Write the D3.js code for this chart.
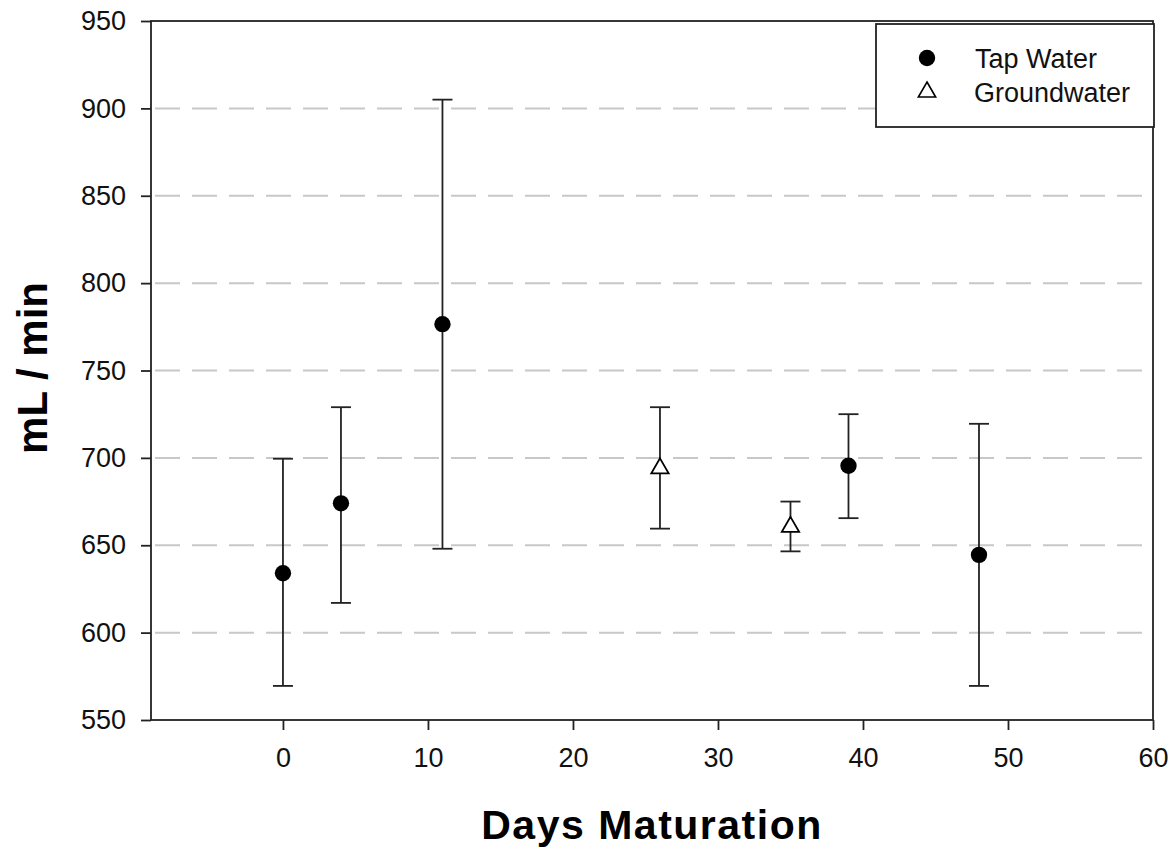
<!DOCTYPE html>
<html><head><meta charset="utf-8">
<script src="https://cdn.jsdelivr.net/npm/d3@7"></script>
<style>body{margin:0;background:#fff;} text{font-family:"Liberation Sans",Arial,sans-serif;}</style>
</head><body>
<svg id="c" width="1173" height="850"></svg>
<script>
const tapDays = [0, 4, 11, 39, 48];
const tapMean = [634, 674, 776.5, 695.5, 644.5];
const tapLow  = [569.5, 617, 648, 665.5, 569.5];
const tapHigh = [699.5, 729, 905, 725, 719.5];
const gwDays = [26, 35];
const gwMean = [694, 660.5];
const gwLow  = [659.5, 646.5];
const gwHigh = [729, 675];
const xTicks = [0, 10, 20, 30, 40, 50, 60];
const yTicks = [550, 600, 650, 700, 750, 800, 850, 900, 950];
const gridTicks = [600, 650, 700, 750, 800, 850, 900];

const svg = d3.select("#c");
const L = 151, R = 1153, T = 21, B = 720;
const x = d3.scaleLinear().domain([-9.1, 60]).range([L, R]);
const y = d3.scaleLinear().domain([550, 950]).range([B, T]);

// grid
svg.append("g").selectAll("line").data(gridTicks).join("line")
  .attr("x1", L + 4).attr("x2", R).attr("y1", d => y(d)).attr("y2", d => y(d))
  .attr("stroke", "#c8c8c8").attr("stroke-width", 2).attr("stroke-dasharray", "25,12");

// frame
svg.append("rect").attr("x", L).attr("y", T).attr("width", R - L).attr("height", B - T)
  .attr("fill", "none").attr("stroke", "#222").attr("stroke-width", 1.8);

// axes
const yAxis = d3.axisLeft(y).tickValues(yTicks).tickSize(10).tickPadding(15);
const gy = svg.append("g").attr("transform", `translate(${L},0)`).call(yAxis);
const xAxis = d3.axisBottom(x).tickValues(xTicks).tickSize(10).tickPadding(18);
const gx = svg.append("g").attr("transform", `translate(0,${B})`).call(xAxis);
[gy, gx].forEach(g => {
  g.select(".domain").remove();
  g.selectAll(".tick line").attr("stroke", "#222").attr("stroke-width", 1.8);
  g.selectAll(".tick text").attr("fill", "#111").style("font-size", "27px")
   .style("font-family", "'Liberation Sans',Arial,sans-serif");
});

// error bars
function errorBars(days, low, high) {
  const g = svg.append("g").attr("stroke", "#222").attr("stroke-width", 1.8);
  g.selectAll("line.v").data(days).join("line").attr("class", "v")
    .attr("x1", d => x(d)).attr("x2", d => x(d))
    .attr("y1", (d, i) => y(low[i])).attr("y2", (d, i) => y(high[i]));
  g.selectAll("line.h").data(days).join("line").attr("class", "h")
    .attr("x1", d => x(d) - 10).attr("x2", d => x(d) + 10)
    .attr("y1", (d, i) => y(high[i])).attr("y2", (d, i) => y(high[i]));
  g.selectAll("line.l").data(days).join("line").attr("class", "l")
    .attr("x1", d => x(d) - 10).attr("x2", d => x(d) + 10)
    .attr("y1", (d, i) => y(low[i])).attr("y2", (d, i) => y(low[i]));
}
errorBars(tapDays, tapLow, tapHigh);
errorBars(gwDays, gwLow, gwHigh);

const circle = d3.symbol().type(d3.symbolCircle).size(210);
const tri = d3.symbol().type(d3.symbolTriangle).size(130);

svg.append("g").selectAll("path").data(tapDays).join("path")
  .attr("d", circle).attr("transform", (d, i) => `translate(${x(d)},${y(tapMean[i])})`)
  .attr("fill", "#000");
svg.append("g").selectAll("path").data(gwDays).join("path")
  .attr("d", tri).attr("transform", (d, i) => `translate(${x(d)},${y(gwMean[i])})`)
  .attr("fill", "#fff").attr("stroke", "#000").attr("stroke-width", 1.8);

// legend
const lg = svg.append("g");
lg.append("rect").attr("x", 876).attr("y", 24).attr("width", 278).attr("height", 103)
  .attr("fill", "#fff").attr("stroke", "#222").attr("stroke-width", 1.8);
lg.append("path").attr("d", circle).attr("transform", "translate(927,58)").attr("fill", "#000");
lg.append("path").attr("d", tri).attr("transform", "translate(927,92)")
  .attr("fill", "#fff").attr("stroke", "#000").attr("stroke-width", 1.6);
lg.append("text").attr("x", 975).attr("y", 68).text("Tap Water").style("font-size", "27px").attr("fill", "#111");
lg.append("text").attr("x", 974).attr("y", 102).text("Groundwater").style("font-size", "27px").attr("fill", "#111");

// titles
svg.append("text").attr("x", 652).attr("y", 839).attr("text-anchor", "middle")
  .style("font-size", "41px").style("font-weight", "bold").style("letter-spacing", "1.5px")
  .attr("fill", "#000").text("Days Maturation");
svg.append("text").attr("transform", "translate(47,368) rotate(-90)").attr("text-anchor", "middle")
  .style("font-size", "42px").style("font-weight", "bold").attr("fill", "#000").text("mL / min");
</script>
</body></html>
